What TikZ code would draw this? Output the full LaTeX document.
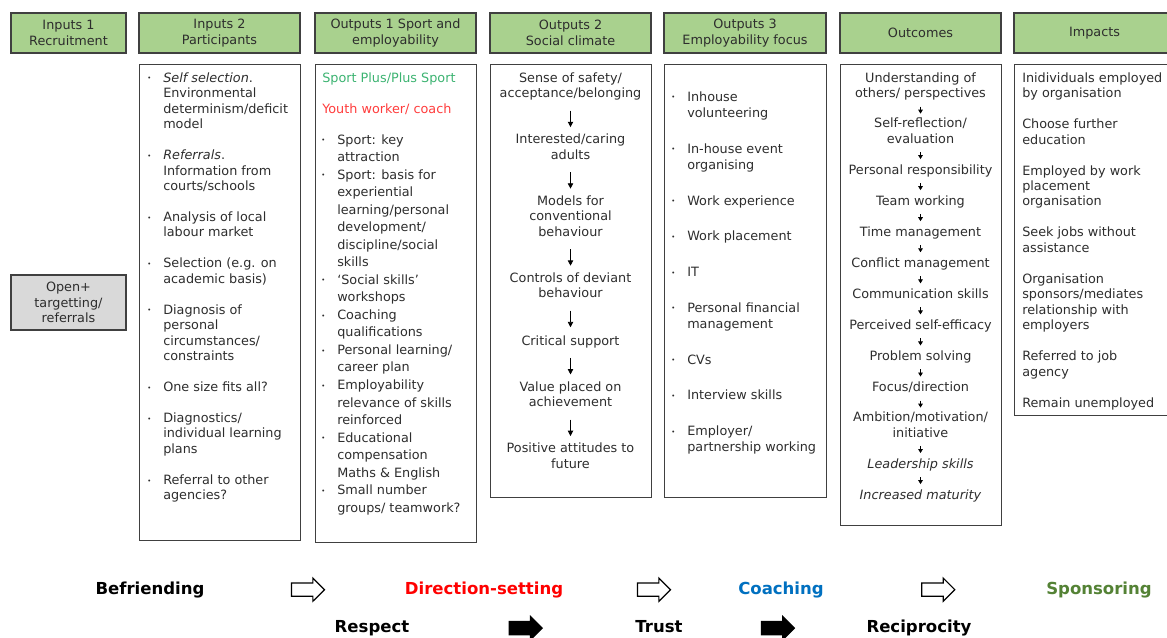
\documentclass[tikz,border=0pt]{standalone}
\usepackage{fontspec}
\setmainfont{DejaVu Sans}
\usetikzlibrary{positioning,calc,arrows.meta,shapes.arrows}

\definecolor{hdrgreen}{RGB}{169,209,142}
\definecolor{boxgrey}{RGB}{217,217,217}
\definecolor{edgegrey}{RGB}{64,64,64}
\definecolor{txtgrey}{RGB}{45,45,45}
\definecolor{sportgreen}{RGB}{60,179,113}
\definecolor{youthred}{RGB}{255,60,60}
\definecolor{dirred}{RGB}{255,0,0}
\definecolor{coachblue}{RGB}{0,112,192}
\definecolor{sponsgreen}{RGB}{84,130,53}

\newcommand\bodyfont{\fontsize{9.6}{11.6}\selectfont}
\newcommand\itm{\llap{\makebox[21pt]{\raisebox{1pt}{\tiny\textbullet}}}}

\tikzset{
  hdr/.style={draw=edgegrey, line width=0.9pt, fill=hdrgreen, text=txtgrey,
    minimum width=120.75pt, minimum height=30pt, inner sep=0pt,
    align=center, font=\bodyfont},
  bodybox/.style={draw=edgegrey, line width=0.7pt, anchor=north west,
    inner sep=0pt, minimum width=120.75pt},
  lst/.style={anchor=north west, inner sep=0pt, align=left, text=txtgrey,
    font=\bodyfont, execute at begin node=\strut},
  ctr/.style={inner sep=0pt, align=center, text=txtgrey, font=\bodyfont,
    execute at begin node=\strut, execute at end node=\strut},
  dnarr/.style={-{Triangle[length=4pt,width=4pt]}, line width=0.6pt,
    shorten <=6pt, shorten >=5pt},
  tinyarr/.style={-{Triangle[length=3pt,width=3.5pt]}, line width=0.6pt,
    shorten <=3pt, shorten >=3pt},
  stage/.style={anchor=base, inner sep=0pt, text height=9.4pt, text depth=2.9pt,
    font=\fontsize{12.4}{14}\selectfont\bfseries},
  hollowarr/.style={single arrow, draw=black, line width=0.9pt, fill=white,
    minimum height=24.75pt, inner sep=4.5pt,
    single arrow head extend=3.75pt},
  solidarr/.style={hollowarr, fill=black}
}

\begin{document}
\begin{tikzpicture}[x=0.75pt,y=-0.75pt]
  \useasboundingbox (0,0) rectangle (1167,637);

  \node[hdr, minimum width=86.25pt] (h1) at (68.5,33) {Inputs 1\\Recruitment};
  \node[hdr] (h2) at (219.5,33) {Inputs 2\\Participants};
  \node[hdr] (h3) at (395.5,33) {Outputs 1 Sport and\\employability};
  \node[hdr] (h4) at (570.5,33) {Outputs 2\\Social climate};
  \node[hdr, minimum width=121.5pt] (h5) at (745,33) {Outputs 3\\Employability focus};
  \node[hdr] (h6) at (920.5,33) {Outcomes};
  \node[hdr] (h7) at (1094.5,33) {Impacts};

  \node[hdr, fill=boxgrey, minimum width=86.25pt, minimum height=41.25pt] (b1) at (68.5,302.5) {Open+\\targetting/\\referrals};
  \node[bodybox, minimum height=357pt] (b2) at (139,64) {};
  \node[bodybox, minimum height=358.5pt] (b3) at (315,64) {};
  \node[bodybox, minimum height=324.75pt] (b4) at (490,64) {};
  \node[bodybox, minimum height=324.75pt, minimum width=121.5pt] (b5) at (664,64) {};
  \node[bodybox, minimum height=345.75pt] (b6) at (840,64) {};
  \node[bodybox, minimum height=263.25pt] (b7) at (1014,64) {};

  \node[lst] (p2) at (163,72.2) {\itm\textit{Self selection}.\\Environmental\\determinism/deficit\\model\\[11.6pt]
    \itm\textit{Referrals}.\\Information from\\courts/schools\\[11.6pt]
    \itm Analysis of local\\labour market\\[11.6pt]
    \itm Selection (e.g. on\\academic basis)\\[11.6pt]
    \itm Diagnosis of\\personal\\circumstances/\\constraints\\[11.6pt]
    \itm One size fits all?\\[11.6pt]
    \itm Diagnostics/\\individual learning\\plans\\[11.6pt]
    \itm Referral to other\\agencies?};

  \node[lst, text=sportgreen] (spt) at (322,72.2) {Sport Plus/Plus Sport\\[12pt]\textcolor{youthred}{Youth worker/ coach}};
  \node[lst, font=\fontsize{9.6}{13.15}\selectfont] (o1) at (337,134) {\itm Sport: key\\attraction\\
    \itm Sport: basis for\\experiential\\learning/personal\\development/\\discipline/social\\skills\\
    \itm ‘Social skills’\\workshops\\
    \itm Coaching\\qualifications\\
    \itm Personal learning/\\career plan\\
    \itm Employability\\relevance of skills\\reinforced\\
    \itm Educational\\compensation\\Maths \& English\\
    \itm Small number\\groups/ teamwork?};

  \node[ctr, anchor=north] (s1) at (570.5,72.2) {Sense of safety/\\acceptance/belonging};
  \node[ctr, below=23.4pt of s1] (s2) {Interested/caring\\adults};
  \node[ctr, below=23.4pt of s2] (s3) {Models for\\conventional\\behaviour};
  \node[ctr, below=23.4pt of s3] (s4) {Controls of deviant\\behaviour};
  \node[ctr, below=23.4pt of s4] (s5) {Critical support};
  \node[ctr, below=23.4pt of s5] (s6) {Value placed on\\achievement};
  \node[ctr, below=23.4pt of s6] (s7) {Positive attitudes to\\future};
  \draw[dnarr] (s1) -- (s2);
  \draw[dnarr] (s2) -- (s3);
  \draw[dnarr] (s3) -- (s4);
  \draw[dnarr] (s4) -- (s5);
  \draw[dnarr] (s5) -- (s6);
  \draw[dnarr] (s6) -- (s7);

  \node[lst, font=\fontsize{9.6}{12.4}\selectfont] (o3) at (687,91) {\itm Inhouse\\volunteering\\[14.3pt]
    \itm In-house event\\organising\\[14.3pt]
    \itm Work experience\\[14.3pt]
    \itm Work placement\\[14.3pt]
    \itm IT\\[14.3pt]
    \itm Personal financial\\management\\[14.3pt]
    \itm CVs\\[14.3pt]
    \itm Interview skills\\[14.3pt]
    \itm Employer/\\partnership working};

  \node[ctr, anchor=north] (c1) at (920.5,72.2) {Understanding of\\others/ perspectives};
  \node[ctr, below=11.3pt of c1] (c2) {Self-reflection/\\evaluation};
  \node[ctr, below=11.3pt of c2] (c3) {Personal responsibility};
  \node[ctr, below=11.3pt of c3] (c4) {Team working};
  \node[ctr, below=11.3pt of c4] (c5) {Time management};
  \node[ctr, below=11.3pt of c5] (c6) {Conflict management};
  \node[ctr, below=11.3pt of c6] (c7) {Communication skills};
  \node[ctr, below=11.3pt of c7] (c8) {Perceived self-efficacy};
  \node[ctr, below=11.3pt of c8] (c9) {Problem solving};
  \node[ctr, below=11.3pt of c9] (c10) {Focus/direction};
  \node[ctr, below=11.3pt of c10] (c11) {Ambition/motivation/\\initiative};
  \node[ctr, below=11.3pt of c11] (c12) {\textit{Leadership skills}};
  \node[ctr, below=11.3pt of c12] (c13) {\textit{Increased maturity}};
  \draw[tinyarr] (c1) -- (c2);
  \draw[tinyarr] (c2) -- (c3);
  \draw[tinyarr] (c3) -- (c4);
  \draw[tinyarr] (c4) -- (c5);
  \draw[tinyarr] (c5) -- (c6);
  \draw[tinyarr] (c6) -- (c7);
  \draw[tinyarr] (c7) -- (c8);
  \draw[tinyarr] (c8) -- (c9);
  \draw[tinyarr] (c9) -- (c10);
  \draw[tinyarr] (c10) -- (c11);
  \draw[tinyarr] (c11) -- (c12);
  \draw[tinyarr] (c12) -- (c13);

  \node[lst] (imp) at (1022,72.2) {Inidividuals employed\\by organisation\\[11.6pt]
    Choose further\\education\\[11.6pt]
    Employed by work\\placement\\organisation\\[11.6pt]
    Seek jobs without\\assistance\\[11.6pt]
    Organisation\\sponsors/mediates\\relationship with\\employers\\[11.6pt]
    Referred to job\\agency\\[11.6pt]
    Remain unemployed};

  \node[stage] (bef) at (150,594) {Befriending};
  \node[stage, text=dirred] (dir) at (484,594) {Direction-setting};
  \node[stage, text=coachblue] (coa) at (781,594) {Coaching};
  \node[stage, text=sponsgreen] (spo) at (1099,594) {Sponsoring};
  \node[stage] (res) at (372,632.5) {Respect};
  \node[stage] (tru) at (659,632.5) {Trust};
  \node[stage] (rec) at (919,632.5) {Reciprocity};
  \node[hollowarr] (a1) at ($(bef.east)!0.5!(dir.west)$) {};
  \node[hollowarr] (a2) at ($(dir.east)!0.5!(coa.west)$) {};
  \node[hollowarr] (a3) at ($(coa.east)!0.5!(spo.west)$) {};
  \node[solidarr] (a4) at ($(res.east)!0.5!(tru.west)$) {};
  \node[solidarr] (a5) at ($(tru.east)!0.5!(rec.west)$) {};
\end{tikzpicture}
\end{document}
